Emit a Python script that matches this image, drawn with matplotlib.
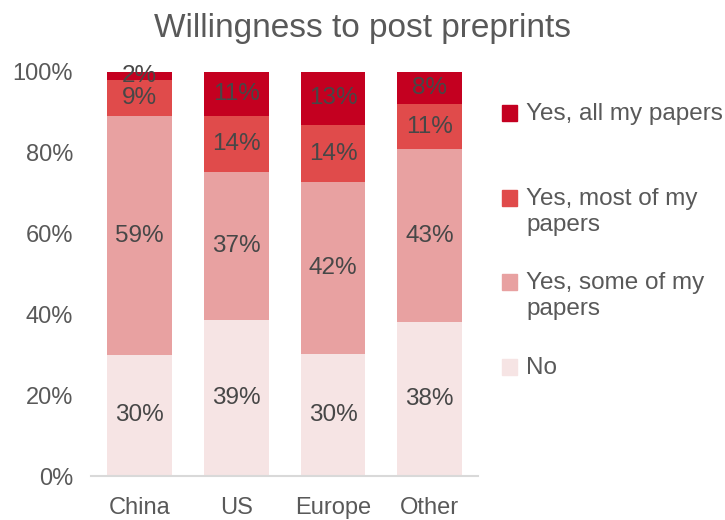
import numpy as np
import matplotlib.pyplot as plt
from matplotlib.patches import Rectangle

plt.rcParams['font.family'] = ['Liberation Sans', 'DejaVu Sans']

# data (percent of respondents)
regions = ['China', 'US', 'Europe', 'Other']
series = ['No', 'Yes, some of my papers', 'Yes, most of my papers', 'Yes, all my papers']
no_vals = [30, 39, 30, 38]
some_vals = [59, 37, 42, 43]
most_vals = [9, 14, 14, 11]
all_vals = [2, 11, 13, 8]
colors = ['#F6E4E4', '#E8A1A1', '#E04B4B', '#C40020']
legend_labels = ['Yes, all my papers', 'Yes, most of my\npapers', 'Yes, some of my\npapers', 'No']

txt = '#595959'
fig = plt.figure(figsize=(7.25, 5.2), dpi=100)
ax = fig.add_axes([0.1255, 0.0846, 0.534, 0.777])

vals = np.array([no_vals, some_vals, most_vals, all_vals], dtype=float)
shares = vals / vals.sum(axis=0) * 100  # bars are stacked to 100%
x = np.arange(len(regions))
bottom = np.zeros(len(regions))
for i in range(len(series)):
	ax.bar(x, shares[i], 0.67, bottom=bottom, color=colors[i], label=series[i])
	for j in range(len(regions)):
		ax.text(x[j], bottom[j] + shares[i][j] / 2, f'{int(vals[i][j])}%',
			ha='center', va='center', fontsize=17.5, color='#474747')
	bottom += shares[i]

ax.set_xlim(-0.5, len(regions) - 0.5)
ax.set_ylim(0, 100)
ax.set_yticks(np.arange(0, 101, 20))
ax.set_yticklabels([f'{v}%' for v in range(0, 101, 20)])
ax.set_xticks(x)
ax.set_xticklabels(regions)
ax.tick_params(length=0, labelsize=17, labelcolor=txt)
ax.tick_params(axis='y', pad=13)
ax.tick_params(axis='x', pad=15)
for s in ['top', 'right', 'left']:
	ax.spines[s].set_visible(False)
ax.spines['bottom'].set_color('#D9D9D9')
ax.spines['bottom'].set_linewidth(1.5)

fig.text(0.5, 0.946, 'Willingness to post preprints', ha='center', va='center',
	fontsize=24, color=txt)

# legend drawn by hand so the square lines up with the first text line
leg_y = [113, 198, 282, 367]
leg_colors = colors[::-1]
for k in range(len(legend_labels)):
	y = leg_y[k]
	fig.patches.append(Rectangle((502 / 725, 1 - (y + 8) / 520), 15 / 725, 16 / 520,
		transform=fig.transFigure, color=leg_colors[k]))
	fig.text(526 / 725, 1 - (y - 10) / 520, legend_labels[k], ha='left', va='top',
		fontsize=17.5, color=txt, linespacing=1.25)

plt.savefig('out.png')
